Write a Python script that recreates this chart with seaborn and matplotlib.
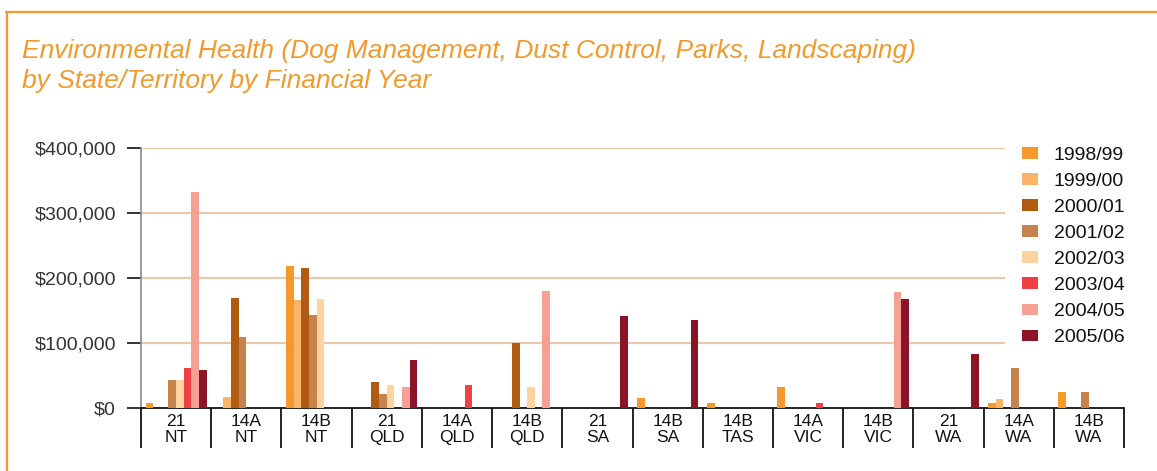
import numpy as np
import pandas as pd
import matplotlib
matplotlib.use('Agg')
import matplotlib.pyplot as plt
import seaborn as sns
from matplotlib.lines import Line2D
from matplotlib.patches import Patch
from matplotlib.ticker import FuncFormatter

# Data
categories = ['21\nNT', '14A\nNT', '14B\nNT', '21\nQLD', '14A\nQLD', '14B\nQLD', '21\nSA',
              '14B\nSA', '14B\nTAS', '14A\nVIC', '14B\nVIC', '21\nWA', '14A\nWA', '14B\nWA']
years = ['1998/99', '1999/00', '2000/01', '2001/02', '2002/03', '2003/04', '2004/05', '2005/06']

fy_1998_99 = [7500, 0, 218000, 0, 0, 0, 0, 15000, 7500, 32000, 0, 0, 8000, 25000]
fy_1999_00 = [0, 17000, 166000, 0, 0, 0, 0, 0, 0, 0, 0, 0, 14000, 0]
fy_2000_01 = [0, 169000, 215000, 40000, 0, 100000, 0, 0, 0, 0, 0, 0, 0, 0]
fy_2001_02 = [43000, 109000, 143000, 21500, 0, 0, 0, 0, 0, 0, 0, 0, 62000, 25000]
fy_2002_03 = [43000, 0, 167000, 35000, 0, 32000, 0, 0, 0, 0, 0, 0, 0, 0]
fy_2003_04 = [61000, 0, 0, 0, 35000, 0, 0, 0, 0, 7500, 0, 0, 0, 0]
fy_2004_05 = [333000, 0, 0, 32000, 0, 180000, 0, 0, 0, 0, 178000, 0, 0, 0]
fy_2005_06 = [58000, 0, 0, 74000, 0, 0, 141000, 135000, 0, 0, 167000, 83000, 0, 0]

colors = ['#F7992A', '#FBB56B', '#B05A12', '#C8834C', '#FDD3A0', '#EE4045', '#F5A092', '#8B1426']

series = [fy_1998_99, fy_1999_00, fy_2000_01, fy_2001_02,
          fy_2002_03, fy_2003_04, fy_2004_05, fy_2005_06]
rows = []
for yr, vals in zip(years, series):
    for cat, v in zip(categories, vals):
        rows.append({'Category': cat, 'Year': yr, 'Amount': v})
df = pd.DataFrame(rows)

sns.set_theme(style='white')
plt.rcParams['font.family'] = ['Liberation Sans', 'DejaVu Sans']

W, H = 1157, 471
fig = plt.figure(figsize=(W / 100, H / 100), dpi=100)
ax = fig.add_axes([141 / W, (H - 408) / H, (1124 - 141) / W, 260 / H])

sns.barplot(data=df, x='Category', y='Amount', hue='Year', order=categories,
            hue_order=years, palette=colors, saturation=1, errorbar=None,
            width=0.87, linewidth=0, ax=ax, zorder=3)

ax.set_ylim(0, 400000)
ax.set_xlim(-0.5, len(categories) - 0.5)
ax.set_yticks([0, 100000, 200000, 300000, 400000])
ax.yaxis.set_major_formatter(FuncFormatter(lambda v, p: f'${v:,.0f}'))
ax.set_xlabel('')
ax.set_ylabel('')

# gridlines (not at zero)
for v in [100000, 200000, 300000, 400000]:
    ax.axhline(v, color='#E8C9AE', lw=1.6, zorder=1)

for s in ['top', 'right']:
    ax.spines[s].set_visible(False)
ax.spines['left'].set_color('#8a8a8a')
ax.spines['left'].set_linewidth(1.2)
ax.spines['bottom'].set_color('#111111')
ax.spines['bottom'].set_linewidth(1.3)

ax.tick_params(axis='y', which='major', direction='out', length=10, width=1.2,
               color='#111111', pad=8, labelsize=14, labelcolor='#333333', left=True)
ax.set_xticks(np.arange(len(categories)))
ax.set_xticks(np.arange(len(categories) + 1) - 0.5, minor=True)
ax.tick_params(axis='x', which='major', length=0, pad=4, labelsize=12.5, labelcolor='#111111')
ax.tick_params(axis='x', which='minor', direction='out', length=29, width=1.3,
               color='#111111', bottom=True)
for lbl in ax.get_xticklabels():
    lbl.set_family(['Liberation Sans Narrow', 'Liberation Sans', 'DejaVu Sans'])
    lbl.set_linespacing(1.08)

# legend
handles = [Patch(facecolor=c, edgecolor='none') for c in colors]
leg = ax.legend(handles, years, loc='upper left', bbox_to_anchor=(1005 / W, 1 - 130 / H),
                bbox_transform=fig.transFigure, frameon=True, fancybox=False,
                framealpha=1, facecolor='white', edgecolor='none', fontsize=14,
                handlelength=0.85, handleheight=0.55, handletextpad=0.8,
                labelspacing=0.47, borderpad=0.85, borderaxespad=0)
leg.set_zorder(5)
for t in leg.get_texts():
    t.set_color('#111111')

# title
title_color = '#F39A2E'
fig.text(22 / W, 1 - 58 / H, 'Environmental Health (Dog Management, Dust Control, Parks, Landscaping)',
         color=title_color, fontsize=19, style='italic', va='baseline', ha='left')
fig.text(22 / W, 1 - 88 / H, 'by State/Territory by Financial Year',
         color=title_color, fontsize=19, style='italic', va='baseline', ha='left')

# orange frame
fig.add_artist(Line2D([6 / W, 1], [1 - 12 / H, 1 - 12 / H], transform=fig.transFigure,
                      color='#F7992A', lw=1.6))
fig.add_artist(Line2D([7 / W, 7 / W], [1 - 12 / H, 0], transform=fig.transFigure,
                      color='#F7992A', lw=1.6))

fig.savefig('out.png', dpi=100, facecolor='white')
